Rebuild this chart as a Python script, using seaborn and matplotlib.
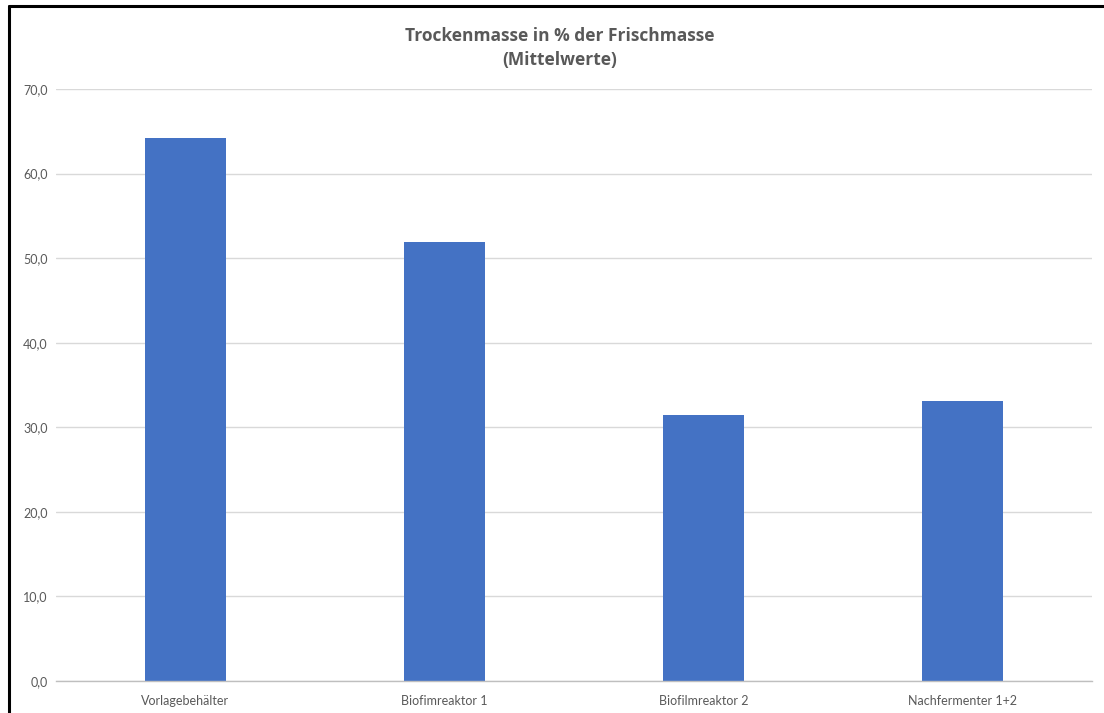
import matplotlib
matplotlib.use("Agg")
import matplotlib.pyplot as plt
import seaborn as sns
import pandas as pd
from matplotlib.lines import Line2D
from matplotlib.ticker import FuncFormatter

# values
categories = ["Vorlagebehälter", "Biofimreaktor 1", "Biofilmreaktor 2", "Nachfermenter 1+2"]
trockenmasse = [64.2, 51.9, 31.5, 33.1]

df = pd.DataFrame({"Station": categories, "TM": trockenmasse})

sns.set_theme(style="white")
plt.rcParams["font.family"] = ["Lato", "DejaVu Sans"]

fig = plt.figure(figsize=(11.04, 7.13), dpi=100)
ax = fig.add_axes([0.0507, 0.0449, 0.9383, 0.8303])

sns.barplot(data=df, x="Station", y="TM", color="#4472C4", width=0.31,
            saturation=1, linewidth=0, ax=ax)

ax.set_ylim(0, 70)
ax.set_yticks(range(0, 71, 10))
ax.yaxis.set_major_formatter(FuncFormatter(lambda v, p: f"{v:.1f}".replace(".", ",")))
ax.grid(axis="y", color="#D9D9D9", linewidth=1)
ax.set_axisbelow(True)
for s in ["top", "left", "right"]:
    ax.spines[s].set_visible(False)
ax.spines["bottom"].set_color("#BFBFBF")
ax.spines["bottom"].set_linewidth(1)
ax.tick_params(axis="both", length=0, labelsize=9, colors="#595959")
ax.tick_params(axis="x", pad=10)
ax.tick_params(axis="y", pad=6)
ax.set_xlabel("")
ax.set_ylabel("")

fig.text(0.507, 0.962, "Trockenmasse in % der Frischmasse\n(Mittelwerte)",
         ha="center", va="top", fontsize=12.5, fontweight="bold",
         family=["Open Sans", "DejaVu Sans"], color="#595959", linespacing=1.45)

# black frame (top and left edges visible in the screenshot)
fig.lines.append(Line2D([0.0077, 0.0077], [0.0, 0.9916], transform=fig.transFigure,
                        color="black", linewidth=2.2))
fig.lines.append(Line2D([0.0077, 1.0], [0.9916, 0.9916], transform=fig.transFigure,
                        color="black", linewidth=2.2))

fig.savefig("out.png", dpi=100)
